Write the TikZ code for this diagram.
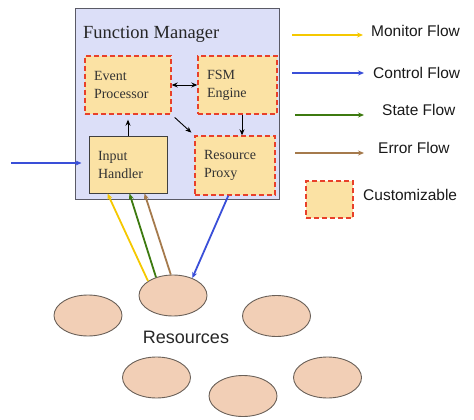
\documentclass[tikz,border=0pt]{standalone}
\usepackage{fontspec}
\setmainfont{Liberation Serif}
\newfontfamily\arialf{Liberation Sans}
\usetikzlibrary{shapes.geometric,arrows.meta,calc}
\definecolor{fmfill}{HTML}{DCDFF8}
\definecolor{fmdraw}{HTML}{5A5A66}
\definecolor{boxfill}{HTML}{FBE2A4}
\definecolor{dashred}{HTML}{E8402A}
\definecolor{resfill}{HTML}{F2CFB6}
\definecolor{resdraw}{HTML}{6A6058}
\definecolor{cyel}{HTML}{F5C800}
\definecolor{cblue}{HTML}{3A4FD8}
\definecolor{cgreen}{HTML}{3D7A10}
\definecolor{cbrown}{HTML}{A57A4C}
\tikzset{
  custbox/.style={draw=dashred, fill=boxfill, line width=1.4pt, dash pattern=on 5pt off 3pt,
    inner xsep=9pt, align=left, font=\fontsize{14}{18}\selectfont, text=black!80},
  solidbox/.style={draw=black!75, fill=boxfill, line width=1pt,
    inner xsep=9pt, align=left, font=\fontsize{14}{18}\selectfont, text=black!80},
  res/.style={ellipse, draw=resdraw, fill=resfill, line width=0.9pt, minimum width=68pt, minimum height=41pt, inner sep=0pt},
  blk/.style={-{Stealth[length=6pt,width=5pt]}, line width=0.9pt, black},
  flow/.style={-{Stealth[length=6pt,width=5pt]}, line width=1.8pt},
  legtxt/.style={font=\arialf\fontsize{15.5}{18}\selectfont, anchor=west, inner sep=0pt, text=black!90}
}
\begin{document}
\begin{tikzpicture}[x=1pt,y=-1pt]
\useasboundingbox (0,0) rectangle (474,420);
% Function Manager
\node[draw=fmdraw, fill=fmfill, line width=1pt, minimum width=204pt, minimum height=190pt, inner sep=0pt] (fm) at (177,104) {};
\node[anchor=west, inner sep=0pt, font=\fontsize{18.5}{20}\selectfont, text=black!85] (fmt) at (83,34) {Function Manager};
% inner boxes
\node[custbox, minimum width=86pt, minimum height=58pt, text width=68pt] (ep) at (128,85) {Event\\Processor};
\node[custbox, minimum width=79pt, minimum height=58pt, text width=61pt] (fsm) at (237.5,85) {FSM\\Engine};
\node[solidbox, minimum width=78pt, minimum height=57pt, text width=60pt] (ih) at (128,164.5) {Input\\Handler};
\node[custbox, minimum width=80pt, minimum height=59pt, text width=62pt] (rp) at (235,165.5) {Resource\\Proxy};
% inner arrows
\draw[{Stealth[length=6pt,width=5pt]}-{Stealth[length=6pt,width=5pt]}, line width=0.9pt] (ep.east) -- (fsm.west);
\draw[blk] ($(fsm.south)+(4.5,0)$) -- ($(rp.north)+(7,0)$);
\draw[blk, shorten >=5pt] (ih.north) -- (ep.south);
\draw[blk, shorten <=4pt, shorten >=4pt] (ep.south east) -- (rp.north west);
% left control input
\coordinate (lin) at (11,163);
\draw[flow, cblue, shorten >=7pt] (lin) -- (ih.west |- lin);
% resources
\node[res] (r1) at (173,295.5) {};
\node[res] (r2) at (88,315.5) {};
\node[res] (r3) at (276.5,316) {};
\node[res] (r4) at (156.5,377.5) {};
\node[res] (r5) at (243,396) {};
\node[res] (r6) at (327.5,377.5) {};
\node[font=\arialf\fontsize{18}{20}\selectfont, text=black!85, inner sep=0pt] (rt) at (186,337) {Resources};
% flows to/from resources
\draw[flow, cyel] (r1.150) -- ($(ih.south west)+(19,0)$);
\draw[flow, cgreen] (r1.133) -- ($(ih.south west)+(41,0)$);
\draw[flow, cbrown] (r1.96) -- ($(ih.south west)+(56,0)$);
\draw[flow, cblue] ($(rp.south west)+(34,0)$) -- (r1.42);
% legend
\coordinate (m1) at (292,35);  \coordinate (m2) at (363,35);
\coordinate (c1) at (292,73);  \coordinate (c2) at (364,73);
\coordinate (s1) at (295,115); \coordinate (s2) at (364,115);
\coordinate (e1) at (295,153); \coordinate (e2) at (364,153);
\draw[flow, cyel, line width=1.6pt] (m1) -- (m2);
\draw[flow, cblue, line width=1.6pt] (c1) -- (c2);
\draw[flow, cgreen, line width=1.6pt] (s1) -- (s2);
\draw[flow, cbrown, line width=1.6pt] (e1) -- (e2);
\node[legtxt] (lm) at (371,31) {Monitor Flow};
\node[legtxt] (lc) at (373,73) {Control Flow};
\node[legtxt] (ls) at (382,110) {State Flow};
\node[legtxt] (le) at (378,148) {Error Flow};
\node[custbox, minimum width=47pt, minimum height=37pt, inner sep=0pt] (lcust) at (329.5,199.5) {};
\node[legtxt] (lcu) at (363,195) {Customizable};
\end{tikzpicture}
\end{document}
